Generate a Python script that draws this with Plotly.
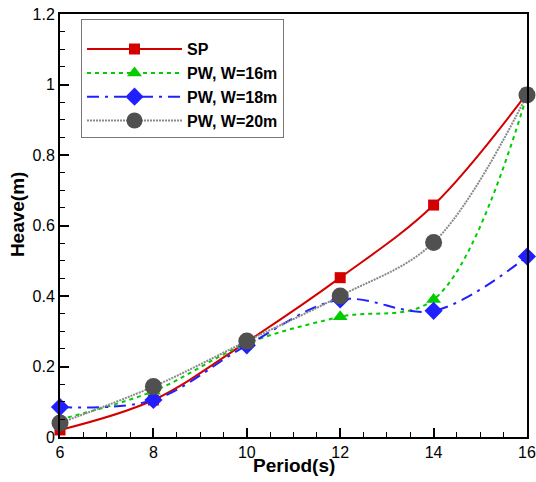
import plotly.graph_objects as go

periods = [6, 8, 10, 12, 14, 16]
sp = [0.02, 0.105, 0.27, 0.452, 0.658, 0.975]
pw16 = [0.05, 0.13, 0.265, 0.341, 0.39, 0.97]
pw18 = [0.085, 0.105, 0.26, 0.39, 0.358, 0.512]
pw20 = [0.04, 0.143, 0.272, 0.40, 0.552, 0.97]

names = ["SP", "PW, W=16m", "PW, W=18m", "PW, W=20m"]
series = [sp, pw16, pw18, pw20]
line_colors = ["#d40000", "#00cc00", "#2020ff", "#8a8a8a"]
marker_colors = ["#d40000", "#00cc00", "#2020ff", "#505050"]
symbols = ["square", "triangle-up", "diamond", "circle"]
sizes = [11, 13, 14, 17]
dashes = ["solid", "4px,4px", "12px,6px,3px,6px", "2px,1px"]
widths = [2, 2, 2, 2]

FONT = "Liberation Sans, Arial"

fig = go.Figure()
for n, s, lc, mc, sym, sz, d, w in zip(names, series, line_colors, marker_colors, symbols, sizes, dashes, widths):
    fig.add_trace(go.Scatter(
        x=periods, y=s, name=n, mode="lines+markers",
        line=dict(color=lc, width=w, dash=d, shape="spline", smoothing=1),
        marker=dict(symbol=sym, size=sz, color=mc, line=dict(width=0)),
        cliponaxis=False,
    ))

axis_common = dict(
    showgrid=False, zeroline=False, showline=True, linecolor="black", linewidth=2,
    mirror=True, ticks="inside", tickcolor="black", tickwidth=2, ticklen=9,
    tickfont=dict(family=FONT, size=16, color="black"), automargin=False,
)

fig.update_xaxes(
    range=[6, 16], tickvals=[6, 8, 10, 12, 14, 16],
    minor=dict(ticks="inside", dtick=0.5, tick0=6, ticklen=5, tickwidth=1, tickcolor="black"),
    **axis_common,
)
fig.update_yaxes(
    range=[0, 1.2], tickvals=[0, 0.2, 0.4, 0.6, 0.8, 1, 1.2],
    ticktext=["0", "0.2", "0.4", "0.6", "0.8", "1", "1.2"],
    minor=dict(ticks="inside", dtick=0.05, tick0=0, ticklen=5, tickwidth=1, tickcolor="black"),
    **axis_common,
)

fig.update_layout(
    width=536, height=482,
    margin=dict(l=60, r=9, t=14, b=45),
    paper_bgcolor="white", plot_bgcolor="white",
    legend=dict(
        x=0.045, y=0.987, xanchor="left", yanchor="top",
        bgcolor="white", bordercolor="#777777", borderwidth=1,
        font=dict(family=FONT, size=16, color="black", weight="bold"),
        title=dict(text=" ", font=dict(size=9)),
        tracegroupgap=0, itemwidth=95,
    ),
    annotations=[
        dict(text="<b>Period(s)</b>", xref="paper", yref="paper", x=0.5, y=-0.068,
             xanchor="center", yanchor="middle", showarrow=False,
             font=dict(family=FONT, size=19, color="black")),
        dict(text="<b>Heave(m)</b>", xref="paper", yref="paper", x=-0.092, y=0.527,
             xanchor="center", yanchor="middle", showarrow=False, textangle=-90,
             font=dict(family=FONT, size=19, color="black")),
    ],
)

fig.write_html("out.html", config={"displayModeBar": False},
               post_script="document.body.style.margin='0';document.body.style.overflow='hidden';")
